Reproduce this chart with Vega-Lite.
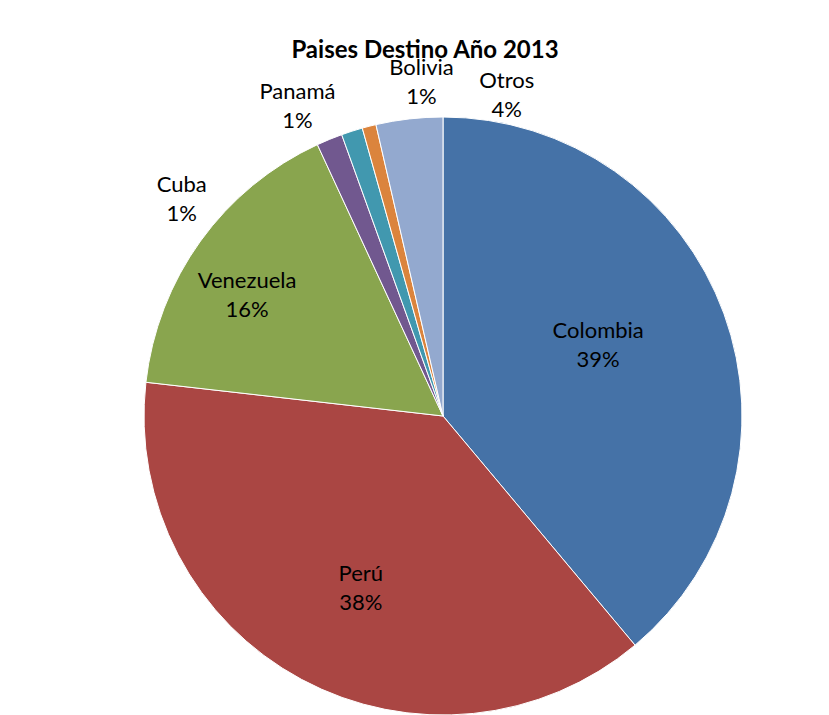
{
  "$schema": "https://vega.github.io/schema/vega-lite/v6.json",
  "width": 598,
  "height": 598,
  "autosize": {"type": "none"},
  "padding": {"left": 144, "top": 117, "right": 87, "bottom": 0},
  "background": "white",
  "view": {"stroke": null},
  "title": {"text": "Paises Destino Año 2013", "font": "Lato", "fontSize": 24, "fontWeight": "bold", "color": "black", "dx": -18, "offset": -25, "baseline": "alphabetic", "anchor": "middle", "frame": "group"},
  "data": {"values": [
    {"pais": "Colombia", "pct": 38.9, "orden": 1},
    {"pais": "Perú", "pct": 37.9, "orden": 2},
    {"pais": "Venezuela", "pct": 16.3, "orden": 3},
    {"pais": "Cuba", "pct": 1.4, "orden": 4},
    {"pais": "Panamá", "pct": 1.15, "orden": 5},
    {"pais": "Bolivia", "pct": 0.75, "orden": 6},
    {"pais": "Otros", "pct": 3.6, "orden": 7}
  ]},
  "transform": [
    {"stack": "pct", "groupby": [], "sort": [{"field": "orden", "order": "ascending"}], "as": ["t0", "t1"]},
    {"calculate": "(datum.t0 + datum.t1) / 2", "as": "tm"},
    {"calculate": "datum.pais + '\\n' + format(datum.pct / 100, '.0%')", "as": "label"}
  ],
  "layer": [
    {
      "mark": {"type": "arc", "stroke": "white", "strokeWidth": 1},
      "encoding": {
        "theta": {"field": "t0", "type": "quantitative", "stack": null, "scale": {"domain": [0, 100]}},
        "theta2": {"field": "t1"},
        "color": {"field": "pais", "type": "nominal", "legend": null,
          "scale": {"domain": ["Colombia", "Perú", "Venezuela", "Cuba", "Panamá", "Bolivia", "Otros"],
                    "range": ["#4572A7", "#AA4643", "#89A54E", "#71588F", "#4198AF", "#DB843D", "#93A9CF"]}}
      }
    },
    {
      "transform": [{"filter": "datum.pais == 'Colombia'"}],
      "mark": {"type": "text", "radius": 180, "dx": -14, "dy": -23, "font": "Lato", "fontSize": 22, "lineBreak": "\n", "lineHeight": 29, "align": "center", "baseline": "middle", "color": "black"},
      "encoding": {"theta": {"field": "tm", "type": "quantitative", "stack": null, "scale": {"domain": [0, 100]}}, "text": {"field": "label"}}
    },
    {
      "transform": [{"filter": "datum.pais == 'Perú'"}],
      "mark": {"type": "text", "radius": 180, "dx": 3, "dy": -1, "font": "Lato", "fontSize": 22, "lineBreak": "\n", "lineHeight": 29, "align": "center", "baseline": "middle", "color": "black"},
      "encoding": {"theta": {"field": "tm", "type": "quantitative", "stack": null, "scale": {"domain": [0, 100]}}, "text": {"field": "label"}}
    },
    {
      "transform": [{"filter": "datum.pais == 'Venezuela'"}],
      "mark": {"type": "text", "radius": 180, "dx": -50, "dy": -30, "font": "Lato", "fontSize": 22, "lineBreak": "\n", "lineHeight": 29, "align": "center", "baseline": "middle", "color": "black"},
      "encoding": {"theta": {"field": "tm", "type": "quantitative", "stack": null, "scale": {"domain": [0, 100]}}, "text": {"field": "label"}}
    },
    {
      "transform": [{"filter": "datum.pais == 'Cuba'"}],
      "mark": {"type": "text", "radius": 330, "dx": -136, "dy": 74, "font": "Lato", "fontSize": 22, "lineBreak": "\n", "lineHeight": 29, "align": "center", "baseline": "middle", "color": "black"},
      "encoding": {"theta": {"field": "tm", "type": "quantitative", "stack": null, "scale": {"domain": [0, 100]}}, "text": {"field": "label"}}
    },
    {
      "transform": [{"filter": "datum.pais == 'Panamá'"}],
      "mark": {"type": "text", "radius": 330, "dx": -45, "dy": -10, "font": "Lato", "fontSize": 22, "lineBreak": "\n", "lineHeight": 29, "align": "center", "baseline": "middle", "color": "black"},
      "encoding": {"theta": {"field": "tm", "type": "quantitative", "stack": null, "scale": {"domain": [0, 100]}}, "text": {"field": "label"}}
    },
    {
      "transform": [{"filter": "datum.pais == 'Bolivia'"}],
      "mark": {"type": "text", "radius": 330, "dx": 60, "dy": -28, "font": "Lato", "fontSize": 22, "lineBreak": "\n", "lineHeight": 29, "align": "center", "baseline": "middle", "color": "black"},
      "encoding": {"theta": {"field": "tm", "type": "quantitative", "stack": null, "scale": {"domain": [0, 100]}}, "text": {"field": "label"}}
    },
    {
      "transform": [{"filter": "datum.pais == 'Otros'"}],
      "mark": {"type": "text", "radius": 330, "dx": 101, "dy": -7, "font": "Lato", "fontSize": 22, "lineBreak": "\n", "lineHeight": 29, "align": "center", "baseline": "middle", "color": "black"},
      "encoding": {"theta": {"field": "tm", "type": "quantitative", "stack": null, "scale": {"domain": [0, 100]}}, "text": {"field": "label"}}
    }
  ]
}
